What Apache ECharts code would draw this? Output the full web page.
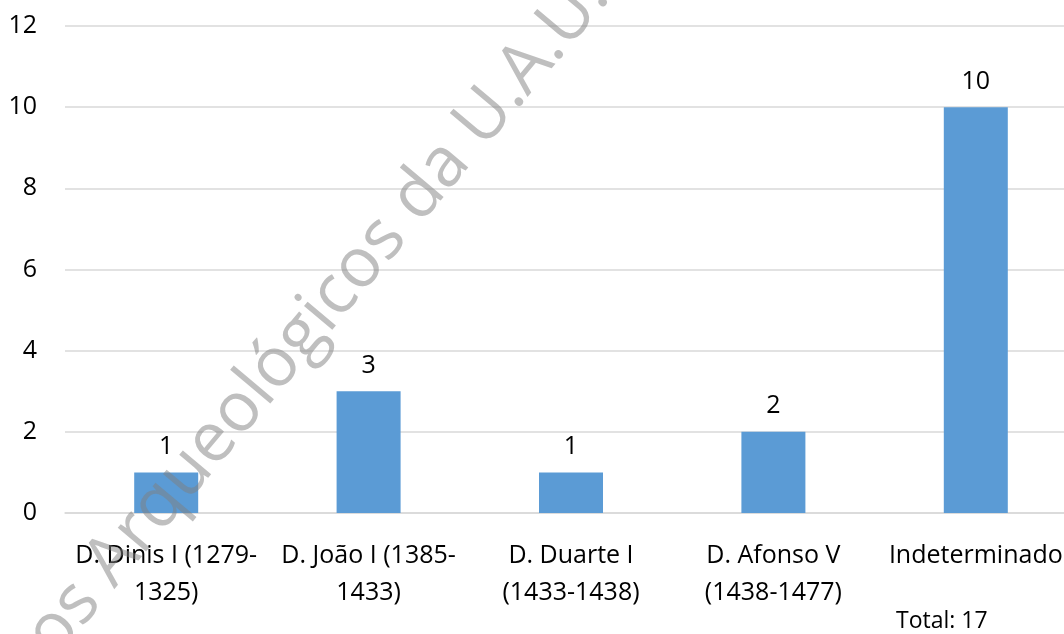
<!DOCTYPE html>
<html>
<head>
<meta charset="utf-8">
<script src="https://cdn.jsdelivr.net/npm/echarts@6/dist/echarts.min.js"></script>
<style>
    html, body { margin: 0; padding: 0; background: #fff; }
    #chart { width: 1064px; height: 634px; }
</style>
</head>
<body>
<div id="chart"></div>
<script>
// dados do gráfico
var reinados = [
    'D. Dinis I (1279-\n1325)',
    'D. João I (1385-\n1433)',
    'D. Duarte I\n(1433-1438)',
    'D. Afonso V\n(1438-1477)',
    'Indeterminado'
];
var quantidades = [1, 3, 1, 2, 10];
var totalTexto = 'Total: 17';
var marcaAgua = 'os Arqueológicos da U.A.U.';

var fonte = '"Open Sans", "Noto Sans", sans-serif';
var myChart = echarts.init(document.getElementById('chart'));

var option = {
    animation: false,
    grid: {
        top: 26,
        left: 65,
        width: 1012,
        bottom: 121,
        containLabel: false,
        outerBoundsMode: 'none'
    },
    xAxis: {
        type: 'category',
        data: reinados,
        axisLine: { lineStyle: { color: '#d9d9d9', width: 1.5 } },
        axisTick: { show: false },
        axisLabel: {
            color: '#000',
            fontFamily: fonte,
            fontSize: 25,
            lineHeight: 37,
            margin: 24,
            interval: 0
        }
    },
    yAxis: {
        type: 'value',
        min: 0,
        max: 12,
        interval: 2,
        axisLine: { show: false },
        axisTick: { show: false },
        axisLabel: {
            color: '#000',
            fontFamily: fonte,
            fontSize: 25,
            margin: 28
        },
        splitLine: { lineStyle: { color: '#d9d9d9', width: 1.5 } }
    },
    series: [{
        type: 'bar',
        data: quantidades,
        barWidth: 64,
        itemStyle: { color: '#5B9BD5' },
        label: {
            show: true,
            position: 'top',
            distance: 13,
            color: '#000',
            fontFamily: fonte,
            fontSize: 25
        }
    }],
    graphic: [
        {
            type: 'text',
            left: 896,
            top: 610,
            style: {
                text: totalTexto,
                fill: '#000',
                font: '23px ' + fonte
            }
        },
        {
            type: 'text',
            x: 318,
            y: 316,
            rotation: 50 * Math.PI / 180,
            z: 100,
            silent: true,
            style: {
                text: marcaAgua,
                x: 0,
                y: 0,
                align: 'center',
                verticalAlign: 'middle',
                fill: 'rgba(128,128,128,0.5)',
                font: '69px ' + fonte
            }
        }
    ]
};

myChart.setOption(option);
</script>
</body>
</html>
